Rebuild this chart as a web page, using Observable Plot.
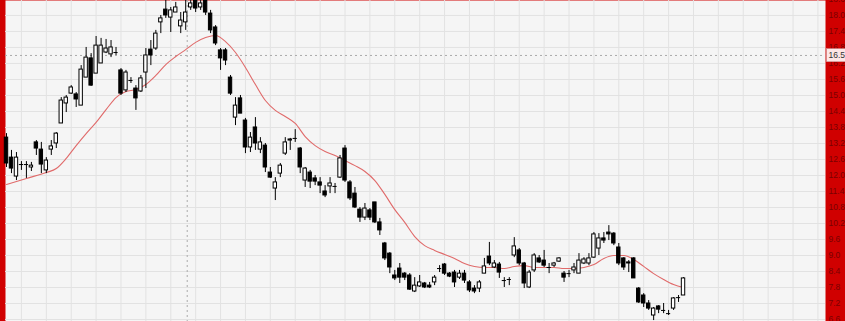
<!DOCTYPE html>
<html><head><meta charset="utf-8">
<script src="https://cdn.jsdelivr.net/npm/d3@7"></script>
<script src="https://cdn.jsdelivr.net/npm/@observablehq/plot@0.6"></script>
<style>html,body{margin:0;padding:0;background:#fff;overflow:hidden}</style>
</head><body><div id="chart"></div>
<script>
const open = [13.42,12.67,11.96,12.41,12.41,12.30,13.24,12.97,12.19,12.97,
13.20,13.95,14.70,15.07,15.04,14.62,15.67,16.39,15.82,16.20,
16.61,16.54,16.61,15.94,15.19,15.56,15.26,15.15,15.86,16.72,
16.76,17.74,18.22,17.92,18.11,17.59,17.74,18.30,18.56,18.30,
18.56,18.07,17.55,16.69,16.69,15.67,14.17,14.89,14.06,13.05,
13.80,12.97,13.12,12.11,11.51,12.07,12.82,13.31,13.39,13.01,
11.81,12.11,11.89,11.74,11.40,11.59,11.59,11.92,13.01,11.74,
11.32,10.72,10.42,10.69,10.99,10.24,9.45,9.07,8.25,8.51,
8.32,8.25,7.65,7.84,7.95,7.87,7.99,8.51,8.66,8.32,
8.36,8.17,8.32,7.99,7.76,7.76,8.32,8.96,8.55,8.66,
8.06,8.10,9.00,9.19,8.70,7.80,8.44,8.89,8.81,8.55,
8.62,8.77,8.32,8.32,8.44,8.32,8.70,8.70,8.92,9.26,
9.64,9.86,9.82,9.30,8.89,8.74,8.89,7.76,7.50,7.20,
6.75,7.09,6.94,6.82,7.01,7.42,7.50];
const close = [12.45,12.26,12.67,12.41,12.41,12.37,13.01,12.41,12.56,13.09,
13.57,14.81,14.92,15.30,14.85,15.97,16.42,15.37,16.87,16.87,
16.76,16.80,16.61,15.07,15.86,15.56,14.89,15.64,16.50,16.50,
17.32,17.89,18.00,18.19,18.30,17.81,18.11,18.45,18.26,18.45,
18.11,17.44,16.95,16.39,16.31,15.07,14.62,14.32,13.05,13.42,
13.20,13.24,12.30,11.92,11.74,12.37,13.24,13.35,13.39,12.30,
12.26,11.77,11.77,11.62,11.25,11.70,11.59,12.64,11.81,11.14,
10.80,10.42,10.76,10.42,10.24,9.94,8.89,8.55,8.14,8.17,
8.17,7.72,7.87,7.99,7.80,7.80,8.17,8.51,8.32,8.21,
7.99,8.32,8.06,7.69,7.65,7.99,8.59,8.70,8.70,8.36,
8.06,8.10,9.34,8.70,7.95,8.36,9.00,8.74,8.62,8.55,
8.70,8.89,8.17,8.32,8.55,8.81,8.85,8.89,9.79,9.64,
9.56,9.79,9.45,8.70,8.55,8.70,8.14,7.24,7.20,7.01,
7.01,6.97,6.94,6.82,7.39,7.42,8.14];
const high = [13.57,12.94,12.86,12.52,12.52,12.49,13.31,13.24,12.67,13.31,
13.61,14.92,15.00,15.37,15.11,16.12,16.80,16.57,17.21,17.14,
17.10,17.06,16.80,16.01,15.94,15.67,15.37,15.75,16.76,17.06,
17.44,18.00,18.60,18.30,18.49,18.11,18.60,18.60,18.60,18.60,
18.65,18.19,17.62,16.76,16.76,15.75,14.92,15.00,14.14,13.61,
14.17,13.42,13.20,12.30,11.92,12.45,13.42,13.39,13.72,13.05,
12.30,12.19,12.00,11.92,11.62,11.92,11.70,12.75,13.12,11.81,
11.55,10.80,10.95,10.76,10.99,10.39,9.49,9.11,8.44,8.70,
8.36,8.32,8.17,8.25,7.99,7.99,8.25,8.62,8.70,8.36,
8.44,8.44,8.44,8.06,7.87,8.06,8.89,9.49,8.81,8.74,
8.17,8.17,9.67,9.26,8.74,8.44,9.07,9.00,9.19,8.70,
8.74,8.92,8.40,8.44,8.70,9.07,8.92,9.07,9.86,9.82,
9.86,10.12,9.86,9.45,8.92,8.81,8.92,7.80,7.57,7.31,
7.05,7.12,7.20,6.94,7.42,7.50,8.17];
const low = [12.30,12.07,11.81,12.19,11.89,12.15,12.75,12.07,12.07,12.75,
13.01,13.95,14.36,15.04,14.55,14.62,15.67,15.34,15.82,16.20,
16.57,16.42,16.50,15.00,15.11,15.45,14.44,15.11,15.26,16.12,
16.69,17.32,17.89,17.36,18.11,17.32,17.44,18.19,18.11,18.19,
18.00,17.32,16.87,15.94,16.12,15.00,13.87,14.32,12.82,12.86,
12.94,12.82,12.11,11.89,11.06,11.92,12.75,12.94,13.24,12.07,
11.55,11.51,11.62,11.32,11.17,11.32,11.32,11.89,11.74,11.06,
10.76,10.24,10.31,10.31,10.20,9.75,8.81,8.32,8.06,7.95,
8.06,7.69,7.61,7.80,7.76,7.76,7.87,8.36,8.25,8.17,
7.80,8.10,7.95,7.61,7.57,7.61,8.32,8.62,8.51,8.14,
7.80,7.87,8.92,8.62,7.76,7.76,8.36,8.70,8.55,8.32,
8.55,8.74,7.99,8.17,8.32,8.32,8.66,8.62,8.89,9.00,
9.45,9.56,9.37,8.62,8.44,8.36,8.14,7.20,7.05,6.94,
6.56,6.82,6.82,6.75,6.94,7.24,7.50];
const maIndex = [0,4,8,10,12,14,16,18,20,22,24,26,28,30,32,34,36,38,40,42,44,46,48,50,52,54,56,58,60,62,64,66,68,70,72,74,76,78,80,82,84,86,88,90,92,94,96,98,100,102,104,106,108,110,112,114,116,118,120,122,124,126,128,130,132,134,136];
const maValue = [11.66,11.89,12.11,12.26,12.64,13.12,13.57,13.99,14.47,14.92,
15.15,15.22,15.41,15.75,16.16,16.46,16.72,16.99,17.17,17.25,
17.02,16.61,16.05,15.41,14.81,14.44,14.21,13.95,13.46,13.12,
12.90,12.75,12.56,12.37,12.15,11.81,11.29,10.72,10.24,9.71,
9.37,9.19,9.04,8.89,8.70,8.59,8.55,8.55,8.51,8.59,
8.62,8.55,8.55,8.55,8.51,8.51,8.55,8.66,8.89,9.00,
9.00,8.85,8.59,8.32,8.10,7.91,7.80];
const yTicks = [6.6,7.2,7.8,8.4,9.0,9.6,10.2,10.8,11.4,12.0,12.6,13.2,13.8,14.4,15.0,15.6,16.2,16.8,17.4,18.0,18.6];
const xGrid = [3,8,13,18,23,28,33,38,43,48,53,58,63,68,73,78,83,88,93,98,103,108,113,118,123,128,133,138,143,148,153,158,163];
const crossIndex = 36.3;
const crossValue = 16.5;

const candles = open.map((o, i) => ({i, open: o, high: high[i], low: low[i], close: close[i]}));
const bodies = candles.filter(d => d.open !== d.close);
const dojis = candles.filter(d => d.open === d.close);
const ma = maIndex.map((i, k) => ({i, v: maValue[k]}));

const chart = Plot.plot({
  width: 845, height: 321,
  marginLeft: 5, marginRight: 20, marginTop: 0, marginBottom: 0,
  style: {background: "#d00000", fontFamily: "'Liberation Sans', Arial, sans-serif", overflow: "hidden"},
  x: {type: "linear", domain: [-0.201, 164.52], axis: null},
  y: {domain: [6.525, 18.561], axis: null},
  marks: [
    Plot.frame({fill: "#f5f5f5", stroke: null}),
    Plot.gridY(yTicks, {stroke: "#e2e2e2", strokeOpacity: 1}),
    Plot.gridX(xGrid, {stroke: "#e2e2e2", strokeOpacity: 1}),
    Plot.ruleY([crossValue], {stroke: "#aaa", strokeDasharray: "2,3"}),
    Plot.ruleX([crossIndex], {stroke: "#aaa", strokeDasharray: "2,3"}),
    Plot.line(ma, {x: "i", y: "v", stroke: "#e06a6a", strokeWidth: 1.1, curve: "monotone-x"}),
    Plot.ruleX(candles, {x: "i", y1: "low", y2: "high", stroke: "#000"}),
    Plot.rect(bodies, {x1: d => d.i - 0.34, x2: d => d.i + 0.34, y1: "open", y2: "close",
      fill: d => d.close > d.open ? "#fff" : "#000", stroke: "#000", strokeWidth: 1}),
    Plot.ruleY(dojis, {y: "close", x1: d => d.i - 0.42, x2: d => d.i + 0.42, stroke: "#000"}),
    Plot.axisY(yTicks, {anchor: "right", tickSize: 0, tickPadding: 3, fill: "#7a0000", fontSize: 8.5, tickFormat: d => d.toFixed(1)}),
    Plot.text([crossValue], {y: d => d, frameAnchor: "right", dx: 3, textAnchor: "start", text: d => d.toFixed(1), fill: "#333", fontSize: 8.5, className: "crosslabel"})
  ]
});
document.getElementById("chart").appendChild(chart);
// box behind the crosshair value label, sized from its own text
const t = chart.querySelector(".crosslabel text");
if (t) {
  const b = t.getBBox();
  const r = document.createElementNS("http://www.w3.org/2000/svg", "rect");
  r.setAttribute("x", b.x - 2); r.setAttribute("y", b.y - 1.5);
  r.setAttribute("width", b.width + 8); r.setAttribute("height", b.height + 3);
  r.setAttribute("fill", "#fde6e6"); r.setAttribute("stroke", "#c99");
  r.setAttribute("stroke-width", 0.5);
  const tr = t.getAttribute("transform");
  if (tr) r.setAttribute("transform", tr);
  const tx = t.getAttribute("x"), ty = t.getAttribute("y");
  if (tx) r.setAttribute("x", +tx + b.x - 2 - (+tx));
  t.parentNode.insertBefore(r, t);
}
</script></body></html>
